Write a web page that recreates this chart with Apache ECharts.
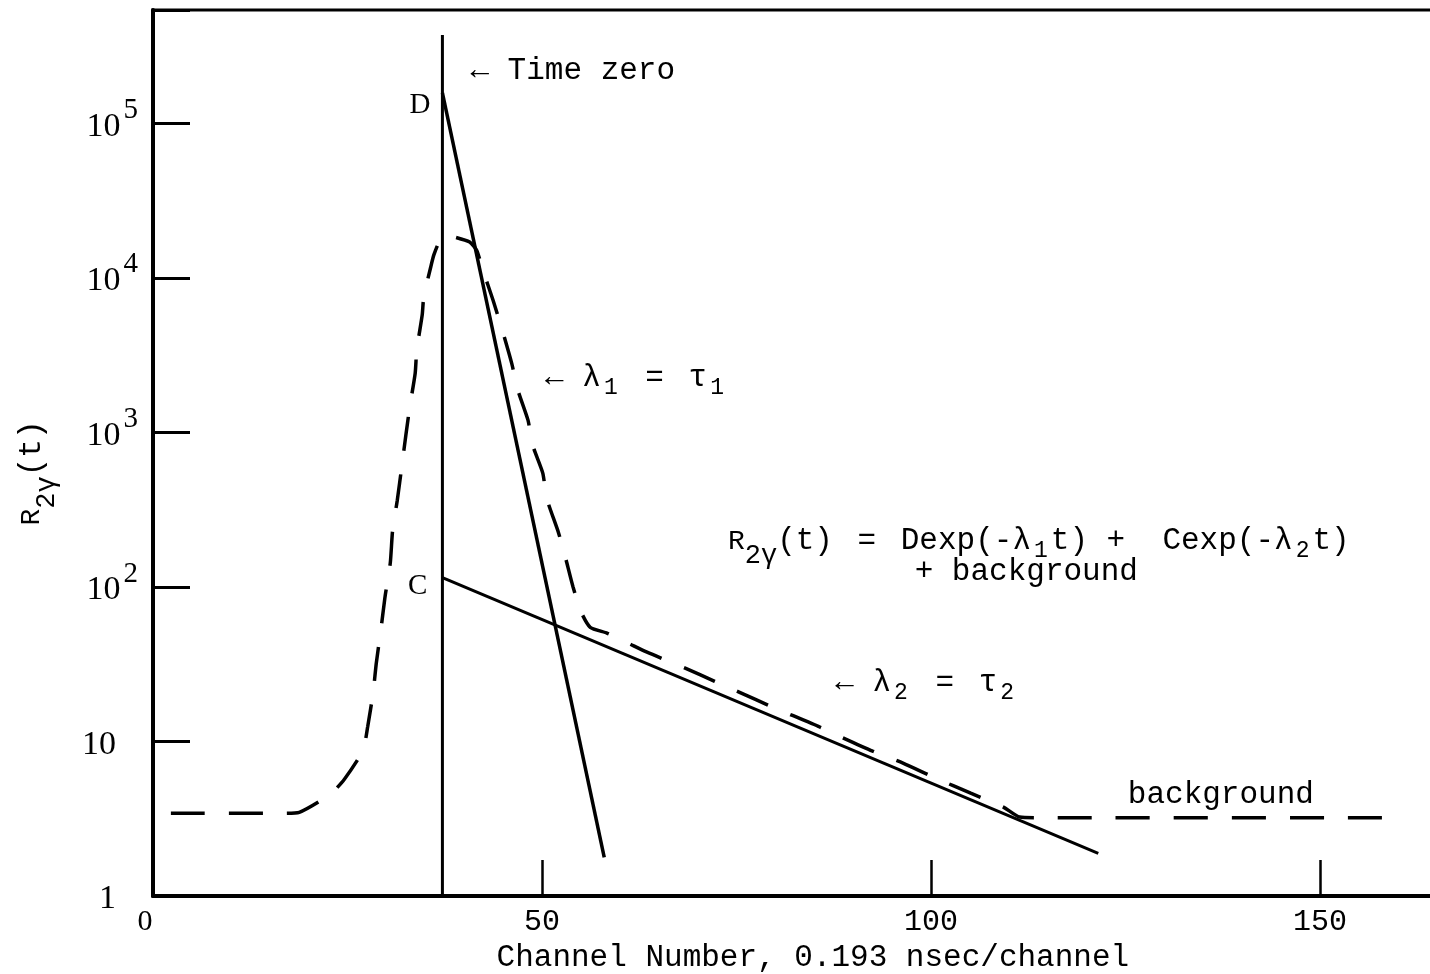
<!DOCTYPE html>
<html>
<head>
<meta charset="utf-8">
<script src="https://cdn.jsdelivr.net/npm/echarts@6/dist/echarts.min.js"></script>
<style>
  html, body { margin: 0; padding: 0; background: #fff; }
  #chart { width: 1430px; height: 974px; }
</style>
</head>
<body>
<div id="chart"></div>
<script>
// Time-zero marker (channel, counts)
const timeZeroChannels = [37.2, 37.2];
const timeZeroCounts = [1, 372000];

// Short-lived component D·exp(-λ1 t)
const fastChannels = [37.2, 58.0];
const fastCounts = [157000, 1.78];

// Long-lived component C·exp(-λ2 t)
const slowChannels = [37.2, 121.5];
const slowCounts = [115, 1.89];

// Measured two-gamma coincidence spectrum
const measuredChannels = [2.3, 16.7, 18.8, 22.8, 24.6, 27.0, 27.6, 28.3, 28.7, 29.3,
  29.8, 30.5, 30.8, 31.4, 32.0, 32.5, 33.0, 33.7, 33.9, 34.6,
  34.8, 35.7, 36.1, 36.9, 37.8, 38.8, 40.7, 41.6, 42.4, 43.7,
  44.9, 46.1, 46.9, 48.2, 48.8, 50.1, 50.6, 52.1, 53.0, 54.0,
  55.1, 56.2, 58.4, 61.1, 63.5, 68.4, 72.2, 75.4, 79.6, 82.1,
  85.7, 88.4, 92.5, 96.4, 100.6, 105.1, 109.3, 111.4, 114.0, 160.2];
const measuredCounts = [3.43, 3.43, 3.48, 4.56, 5.70, 8.77, 12.5, 20.8, 32.1, 53.2,
  84.5, 143, 233, 364, 614, 959, 1455, 2415, 3404, 5741,
  7499, 11750, 14060, 17540, 18620, 18320, 17020, 15100, 11220, 7178,
  4581, 2805, 1875, 1199, 826, 545, 375, 226, 156, 99.5,
  67.6, 54.8, 50.1, 43.2, 37.8, 29.8, 24.5, 20.8, 16.7, 14.8,
  12.4, 10.7, 8.65, 7.24, 5.79, 4.63, 3.76, 3.24, 3.21, 3.21];

// Axis ranges and tick labels
const xMin = 0, xMax = 165, xStep = 50;
const yMin = 1, yMax = 540400;
const xTitle = 'Channel Number, 0.193 nsec/channel';

const pairs = (xs, ys) => xs.map((x, i) => [x, ys[i]]);

const MONO = '"Liberation Mono", "DejaVu Sans Mono", monospace';
const SERIF = '"Liberation Serif", "DejaVu Serif", serif';
const INK = '#000';

// Rich styles for the typed annotations (main text, '=' sign, subscripts, R, 2γ subscript)
const noteRich = {
  t: { fontFamily: MONO, fontSize: 31, color: INK, verticalAlign: 'top' },
  e: { fontFamily: MONO, fontSize: 31, color: INK, verticalAlign: 'top', padding: [0, 6, 0, 6] },
  s: { fontFamily: MONO, fontSize: 23, color: INK, verticalAlign: 'top', padding: [14, 3, 0, 3] },
  r: { fontFamily: MONO, fontSize: 28, color: INK, verticalAlign: 'top', padding: [2, 0, 0, 0] },
  g: { fontFamily: MONO, fontSize: 27, color: INK, verticalAlign: 'top', padding: [17, 0, 0, 0] }
};

function note(coord, text) {
  return {
    coord: coord,
    symbol: 'circle',
    symbolSize: 0,
    label: {
      show: true, position: 'right', distance: 0,
      formatter: text, rich: noteRich,
      fontFamily: MONO, fontSize: 31, color: INK
    }
  };
}

const chart = echarts.init(document.getElementById('chart'), null, { renderer: 'canvas' });

chart.setOption({
  animation: false,
  backgroundColor: '#fff',
  grid: {
    left: 153, top: 10, width: 1283.7, height: 886,
    show: true, borderColor: INK, borderWidth: 3, backgroundColor: 'transparent',
    containLabel: false, outerBoundsMode: 'none'
  },
  xAxis: {
    type: 'value', min: xMin, max: xMax, interval: xStep,
    splitLine: { show: false },
    axisLine: { show: true, lineStyle: { color: INK, width: 4 } },
    axisTick: { show: true, inside: true, length: 36, lineStyle: { color: INK, width: 2.5 } },
    axisLabel: {
      margin: 11, color: INK, fontFamily: MONO, fontSize: 30,
      showMinLabel: true, showMaxLabel: true,
      formatter: v => (v % xStep === 0 ? (v === 0 ? '{z|0}' : String(v)) : ''),
      rich: { z: { fontFamily: SERIF, fontSize: 30, color: INK, padding: [0, 16, 0, 0] } }
    },
    name: xTitle,
    nameLocation: 'middle',
    nameGap: 40,
    nameTextStyle: { color: INK, fontFamily: MONO, fontSize: 31, padding: [0, 0, 0, 36] }
  },
  yAxis: {
    type: 'log', logBase: 10, min: yMin, max: yMax,
    splitLine: { show: false },
    minorTick: { show: false },
    axisLine: { show: true, lineStyle: { color: INK, width: 4 } },
    axisTick: { show: true, inside: true, length: 37, lineStyle: { color: INK, width: 3 } },
    axisLabel: {
      margin: 15, color: INK,
      showMinLabel: true, showMaxLabel: true,
      formatter: v => {
        const e = Math.log10(v);
        const n = Math.round(e);
        if (Math.abs(e - n) > 1e-6) return '';
        if (n === 0) return '{b|1}{sp| }';
        if (n === 1) return '{b|10}{sp| }';
        return '{b|10}{p|' + n + '}';
      },
      rich: {
        b: { fontFamily: SERIF, fontSize: 34, color: INK, verticalAlign: 'top', padding: [14, 0, 0, 0] },
        p: { fontFamily: SERIF, fontSize: 29, color: INK, verticalAlign: 'top', padding: [0, 0, 26, 3] },
        sp: { fontFamily: SERIF, fontSize: 29, color: INK, verticalAlign: 'top', width: 22, padding: [0, 0, 26, 0] }
      }
    },
    name: '{r|R}{g|2γ}{t|(t)}',
    nameLocation: 'middle',
    nameRotate: 90,
    nameGap: 93,
    nameTextStyle: { color: INK, fontFamily: MONO, fontSize: 31, rich: noteRich, padding: [0, 40, 0, 0] }
  },
  series: [
    {
      name: 'measured',
      type: 'line',
      data: pairs(measuredChannels, measuredCounts),
      symbol: 'none',
      smooth: 0.2,
      silent: true,
      lineStyle: { color: INK, width: 3.5, type: [34, 24], cap: 'butt' },
      z: 2,
      markPoint: {
        silent: true,
        data: [
          note([50.4, 2161], '{t|← λ}{s|1}{t| }{e|=}{t| τ}{s|1}'),
          note([87.7, 22.9], '{t|← λ}{s|2}{t| }{e|=}{t| τ}{s|2}'),
          note([73.9, 179.4], '{r|R}{g|2γ}{t|(t) }{e|=}{t| Dexp(-λ}{s|1}{t|t) +  Cexp(-λ}{s|2}{t|t)}'),
          note([97.9, 124.5], '{t|+ background}'),
          note([125.3, 4.49], '{t|background}')
        ]
      }
    },
    {
      name: 'fast',
      type: 'line',
      data: pairs(fastChannels, fastCounts),
      symbol: 'none',
      silent: true,
      lineStyle: { color: INK, width: 3.5 },
      z: 3,
      markPoint: {
        silent: true,
        data: [{
          coord: [fastChannels[0], fastCounts[0]], symbol: 'circle', symbolSize: 0,
          label: { show: true, position: 'left', distance: 12, offset: [0, 12],
            formatter: 'D', color: INK, fontFamily: SERIF, fontSize: 29 }
        }]
      }
    },
    {
      name: 'slow',
      type: 'line',
      data: pairs(slowChannels, slowCounts),
      symbol: 'none',
      silent: true,
      lineStyle: { color: INK, width: 3 },
      z: 3,
      markPoint: {
        silent: true,
        data: [{
          coord: [slowChannels[0], slowCounts[0]], symbol: 'circle', symbolSize: 0,
          label: { show: true, position: 'left', distance: 15, offset: [0, 9],
            formatter: 'C', color: INK, fontFamily: SERIF, fontSize: 29 }
        }]
      }
    },
    {
      name: 'time zero',
      type: 'line',
      data: pairs(timeZeroChannels, timeZeroCounts),
      symbol: 'none',
      silent: true,
      lineStyle: { color: INK, width: 3 },
      z: 3,
      markPoint: {
        silent: true,
        data: [{
          coord: [timeZeroChannels[1], timeZeroCounts[1]], symbol: 'circle', symbolSize: 0,
          label: { show: true, position: 'right', distance: 28, offset: [0, 36],
            formatter: '← Time zero', color: INK, fontFamily: MONO, fontSize: 31 }
        }]
      }
    }
  ]
});
</script>
</body>
</html>
